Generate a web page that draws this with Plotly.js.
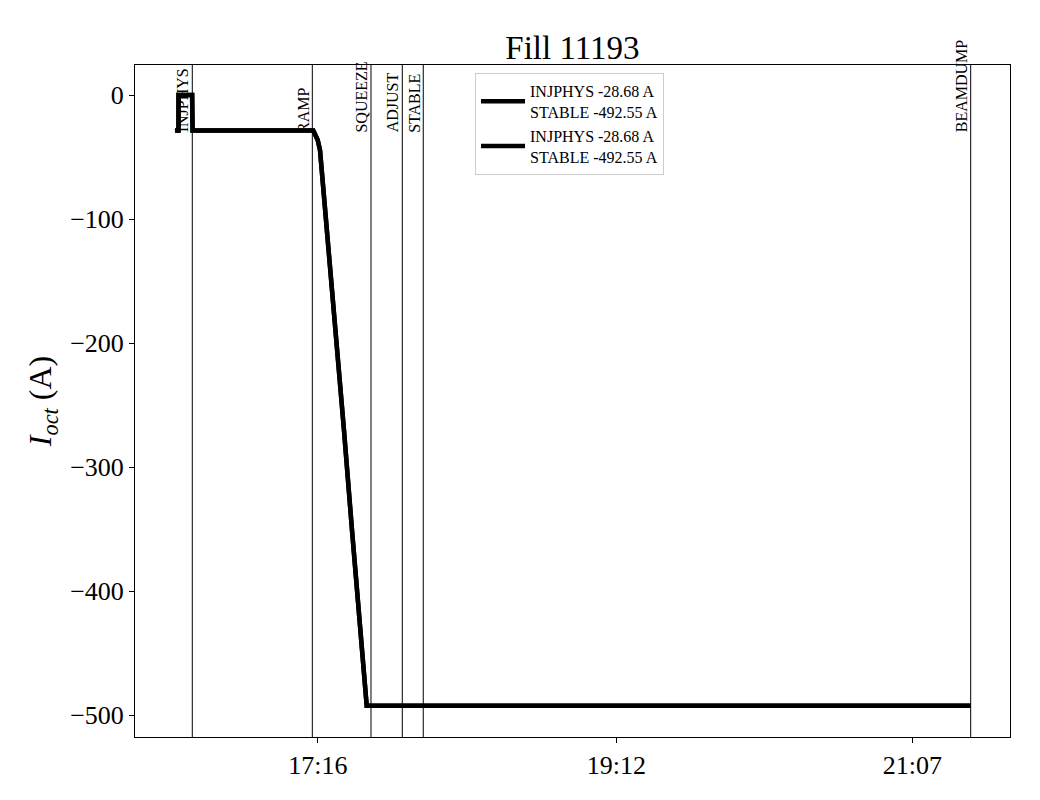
<!DOCTYPE html>
<html>
<head>
<meta charset="utf-8">
<script src="https://cdn.plot.ly/plotly-3.0.1.min.js"></script>
<style>html,body{margin:0;padding:0;background:#fff;}#chart{width:1040px;height:800px;}</style>
</head>
<body>
<div id="chart"></div>
<script>
// Octupole current trace (time, value)
const DAY = "2025-09-08 ";
const times = ["16:20:25","16:21:47","16:21:48","16:27:05","16:27:15","17:14:10","17:15:53","17:16:47","17:18:27","17:19:49","17:22:37","17:26:06","17:29:13","17:31:21","17:34:28","17:34:56","21:29:40"];
const current = [-28.68, -28.68, 0, 0, -28.68, -28.68, -36.3, -44.4, -84.7, -116.9, -189.5, -270.2, -350.8, -407.3, -487.9, -492.55, -492.55];

// Beam mode events
const eventNames = ["INJPHYS","RAMP","SQUEEZE","ADJUST","STABLE","BEAMDUMP"];
const eventTimes = ["16:27:09","17:13:48","17:36:36","17:48:46","17:56:55","21:29:40"];
const labelLevel = -28.68;

const legendText = "INJPHYS -28.68 A<br>STABLE -492.55 A";
const xTickTimes = ["17:16:00","19:12:00","21:07:00"];
const xTickText = ["17:16","19:12","21:07"];
const yTicks = [0,-100,-200,-300,-400,-500];

const xs = times.map(t => DAY + t);
const font = "Liberation Serif, Times New Roman, serif";

const traces = [0,1].map(() => ({
  x: xs, y: current, type: "scatter", mode: "lines",
  line: {color: "#000", width: 4.5},
  name: legendText, showlegend: true
}));

const shapes = eventTimes.map(t => ({
  type: "line", xref: "x", yref: "paper",
  x0: DAY + t, x1: DAY + t, y0: 0, y1: 1,
  line: {color: "#000", width: 1}
}));

const annotations = eventNames.map((n, i) => ({
  text: n, x: DAY + eventTimes[i], y: labelLevel, xref: "x", yref: "y",
  textangle: -90, xanchor: "right", yanchor: "bottom", showarrow: false,
  font: {family: font, size: 16, color: "#000"}, borderpad: 0, yshift: -3
}));

const layout = {
  width: 1040, height: 800,
  margin: {l: 135, r: 30, t: 65, b: 63},
  paper_bgcolor: "#fff", plot_bgcolor: "#fff",
  font: {family: font, color: "#000"},
  title: {text: "Fill 11193", font: {family: font, size: 33, color: "#000"},
          x: 0.5504, xanchor: "center", y: 0.941, yanchor: "middle", yref: "container"},
  xaxis: {
    type: "date", range: [DAY + "16:04:53", DAY + "21:44:57"],
    tickvals: xTickTimes.map(t => DAY + t), ticktext: xTickText,
    tickfont: {family: font, size: 26, color: "#000"},
    ticks: "outside", ticklen: 5, tickcolor: "#000",
    showgrid: false, zeroline: false,
    showline: true, mirror: true, linecolor: "#000", linewidth: 1
  },
  yaxis: {
    range: [-517.7, 24.2],
    tickvals: yTicks,
    tickfont: {family: font, size: 26, color: "#000"},
    ticks: "outside", ticklen: 5, tickcolor: "#000",
    showgrid: false, zeroline: false,
    showline: true, mirror: true, linecolor: "#000", linewidth: 1,
    title: {text: "<i>I</i><sub><i>oct</i></sub> (A)", font: {family: font, size: 32, color: "#000"}, standoff: 8}
  },
  legend: {
    x: 0.3886, y: 0.988, xanchor: "left", yanchor: "top",
    bgcolor: "#fff", bordercolor: "#ccc", borderwidth: 1,
    font: {family: font, size: 16, color: "#000"},
    itemwidth: 44, tracegroupgap: 0
  },
  shapes: shapes,
  annotations: annotations
};

Plotly.newPlot("chart", traces, layout, {staticPlot: true});
</script>
</body>
</html>
